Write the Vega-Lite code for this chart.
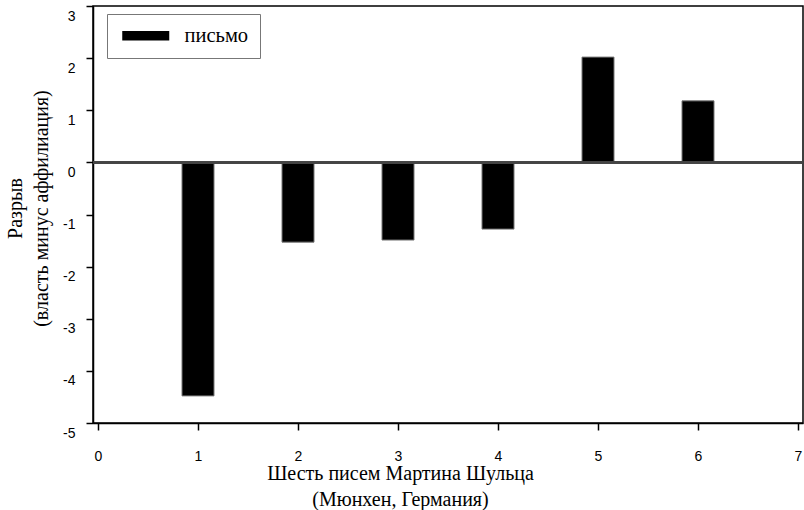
{
  "$schema": "https://vega.github.io/schema/vega-lite/v6.json",
  "autosize": {"type": "none"},
  "padding": {"left": 93, "top": 6, "right": 1, "bottom": 87},
  "width": 710,
  "height": 417,
  "background": "white",
  "config": {
    "view": {"stroke": "black", "strokeWidth": 1.5},
    "axis": {"grid": false, "domainColor": "black", "tickColor": "black", "domainWidth": 1.5, "tickWidth": 1.5,
      "labelFont": "Liberation Sans", "labelFontSize": 14, "labelColor": "black",
      "titleFont": "Liberation Serif", "titleFontSize": 20, "titleFontWeight": "normal", "titleColor": "black", "titleLineHeight": 26}
  },
  "data": {"values": [
    {"letter": 1, "gap": -4.48, "series": "письмо"},
    {"letter": 2, "gap": -1.53, "series": "письмо"},
    {"letter": 3, "gap": -1.49, "series": "письмо"},
    {"letter": 4, "gap": -1.28, "series": "письмо"},
    {"letter": 5, "gap": 2.02, "series": "письмо"},
    {"letter": 6, "gap": 1.18, "series": "письмо"}
  ]},
  "layer": [
    {
      "mark": {"type": "bar", "size": 32, "stroke": "#777", "strokeWidth": 1},
      "encoding": {
        "x": {"field": "letter", "type": "quantitative",
          "scale": {"domain": [0, 7], "nice": false, "zero": false},
          "axis": {"title": ["Шесть писем Мартина Шульца", "(Мюнхен, Германия)"], "values": [0,1,2,3,4,5,6,7],
            "labelExpr": "'' + datum.value",
            "tickSize": 7, "labelPadding": 19, "labelFlush": false, "labelOverlap": false,
            "titlePadding": 0, "titleX": 307, "titleAlign": "center"}},
        "y": {"field": "gap", "type": "quantitative",
          "scale": {"domain": [-5, 3], "nice": false},
          "axis": {"title": ["Разрыв", "(власть минус аффилиация)"], "values": [-5,-4,-3,-2,-1,0,1,2,3],
            "labelExpr": "'' + datum.value",
            "tickSize": 7, "labelPadding": 11, "labelOffset": 10, "labelOverlap": false,
            "titleX": -78, "titleY": 202, "titleAlign": "center", "titleBaseline": "middle", "titleAngle": -90}},
        "color": {"field": "series", "type": "nominal",
          "scale": {"domain": ["письмо"], "range": ["black"]},
          "legend": {"orient": "none", "legendX": 14, "legendY": 8, "title": null,
            "strokeColor": "#777", "padding": 11.5, "symbolOffset": 3.5,
            "symbolType": "M-1,-0.475H3.7V0.475H-1Z", "symbolSize": 400, "symbolStrokeWidth": 0,
            "labelExpr": "datum.label + '\u2002\u2009'",
            "labelFont": "Liberation Serif", "labelFontSize": 20.5, "labelColor": "black", "labelOffset": 42}}
      }
    },
    {
      "mark": {"type": "rule", "color": "#444", "strokeWidth": 2},
      "encoding": {"y": {"datum": 0}}
    }
  ]
}
